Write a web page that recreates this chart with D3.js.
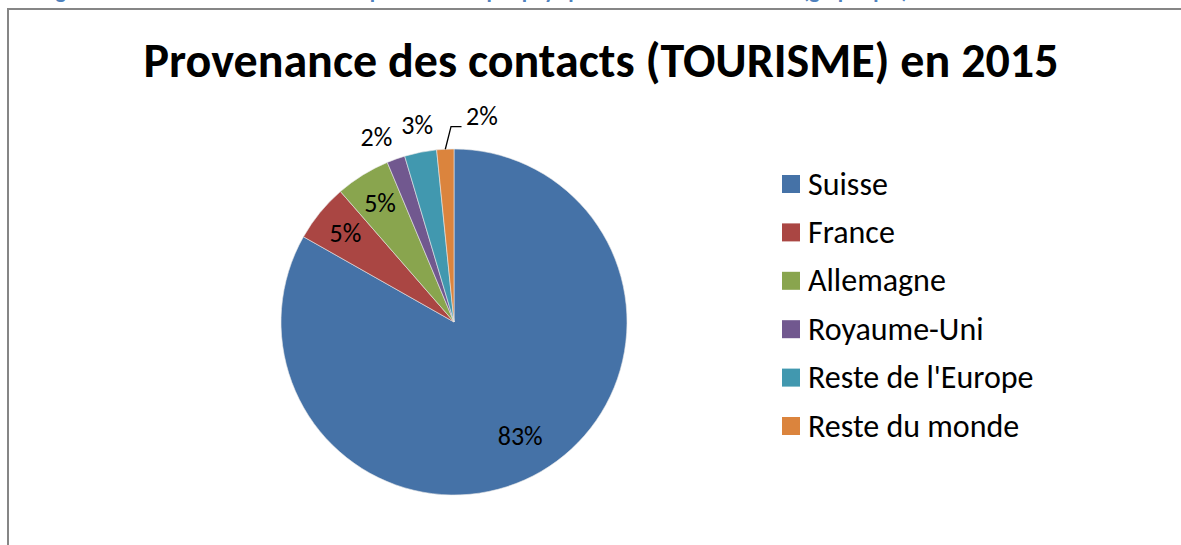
<!DOCTYPE html>
<html><head><meta charset="utf-8">
<script src="https://cdn.jsdelivr.net/npm/d3@7"></script>
<style>
html,body{margin:0;padding:0;background:#fff;overflow:hidden}
text{font-family:Carlito,Lato,"Open Sans",sans-serif}
</style></head>
<body><svg id="c" width="1181" height="545"></svg>
<script>
const categories = ["Suisse","France","Allemagne","Royaume-Uni","Reste de l'Europe","Reste du monde"];
const values = [83.2,5.4,5.1,1.7,3.0,1.6];
const colors = ["#4572A7","#AA4643","#89A54E","#71588F","#4198AF","#DB843D"];
const title = "Provenance des contacts (TOURISME) en 2015";
const caption = "Figure 18 : Provenance des contacts par filière et par pays pour le tourisme en 2015 (graphique)";

const svg = d3.select("#c");
const W = 1181, H = 545;

// caption (clipped at top, as in the reference)
svg.append("text").attr("x", 40).attr("y", -2)
  .attr("font-size", 22).attr("font-weight", "bold").attr("fill", "#4F81BD")
  .text(caption);

// chart frame
svg.append("rect").attr("x", 8).attr("y", 9).attr("width", W + 20).attr("height", H + 20)
  .attr("fill", "#fff").attr("stroke", "#868686").attr("stroke-width", 2);

svg.append("text").attr("x", 601).attr("y", 77).attr("text-anchor", "middle")
  .attr("font-size", 48).attr("font-weight", "bold").attr("fill", "#000").text(title);

const cx = 454, cy = 322, r = 173;
const total = d3.sum(values);
const data = categories.map((c, i) => ({cat: c, val: values[i], color: colors[i]}));
const pie = d3.pie().value(d => d.val).sort(null).startAngle(0).endAngle(2 * Math.PI);
const arcs = pie(data);
const arc = d3.arc().innerRadius(0).outerRadius(r);
const g = svg.append("g").attr("transform", `translate(${cx},${cy})`);
g.selectAll("path").data(arcs).enter().append("path")
  .attr("d", arc).attr("fill", d => d.data.color)
  .attr("stroke", "#e8e8e8").attr("stroke-width", 0.6);

const fmt = d => Math.round(d.data.val / total * 100) + "%";
const pt = (a, rad) => [rad * Math.sin(a), -rad * Math.cos(a)];
arcs.forEach((d, i) => {
  const share = d.data.val / total;
  const mid = (d.startAngle + d.endAngle) / 2;
  const last = i === arcs.length - 1;
  let p;
  if (share >= 0.04) p = pt(mid, r * (i === 0 ? 0.76 : 0.81));
  else if (!last) p = pt(mid + (share < 0.025 ? -0.055 : 0.01), r * 1.16);
  else p = pt(mid + 0.185, r * 1.2);
  if (last) {
    const a = pt(mid, r);
    const b = pt(mid + 0.035, r * 1.13);
    g.append("polyline").attr("points", [a, b, [b[0] + 10.5, b[1]]].map(q => q.join(",")).join(" "))
      .attr("fill", "none").attr("stroke", "#000").attr("stroke-width", 1.3);
  }
  g.append("text").attr("x", p[0]).attr("y", p[1]).attr("dy", "0.35em")
    .attr("text-anchor", "middle").attr("font-size", 26).attr("fill", "#000").text(fmt(d));
});

// legend
const leg = svg.append("g").attr("transform", "translate(782,184)");
const ly = d3.scalePoint().domain(categories).range([0, 242]);
const items = leg.selectAll("g").data(data).enter().append("g")
  .attr("transform", d => `translate(0,${ly(d.cat)})`);
items.append("rect").attr("x", 0).attr("y", -9).attr("width", 18).attr("height", 18).attr("fill", d => d.color);
items.append("text").attr("x", 26).attr("y", 0).attr("dy", "0.33em").attr("font-size", 32).attr("fill", "#000").text(d => d.cat);
</script></body></html>
